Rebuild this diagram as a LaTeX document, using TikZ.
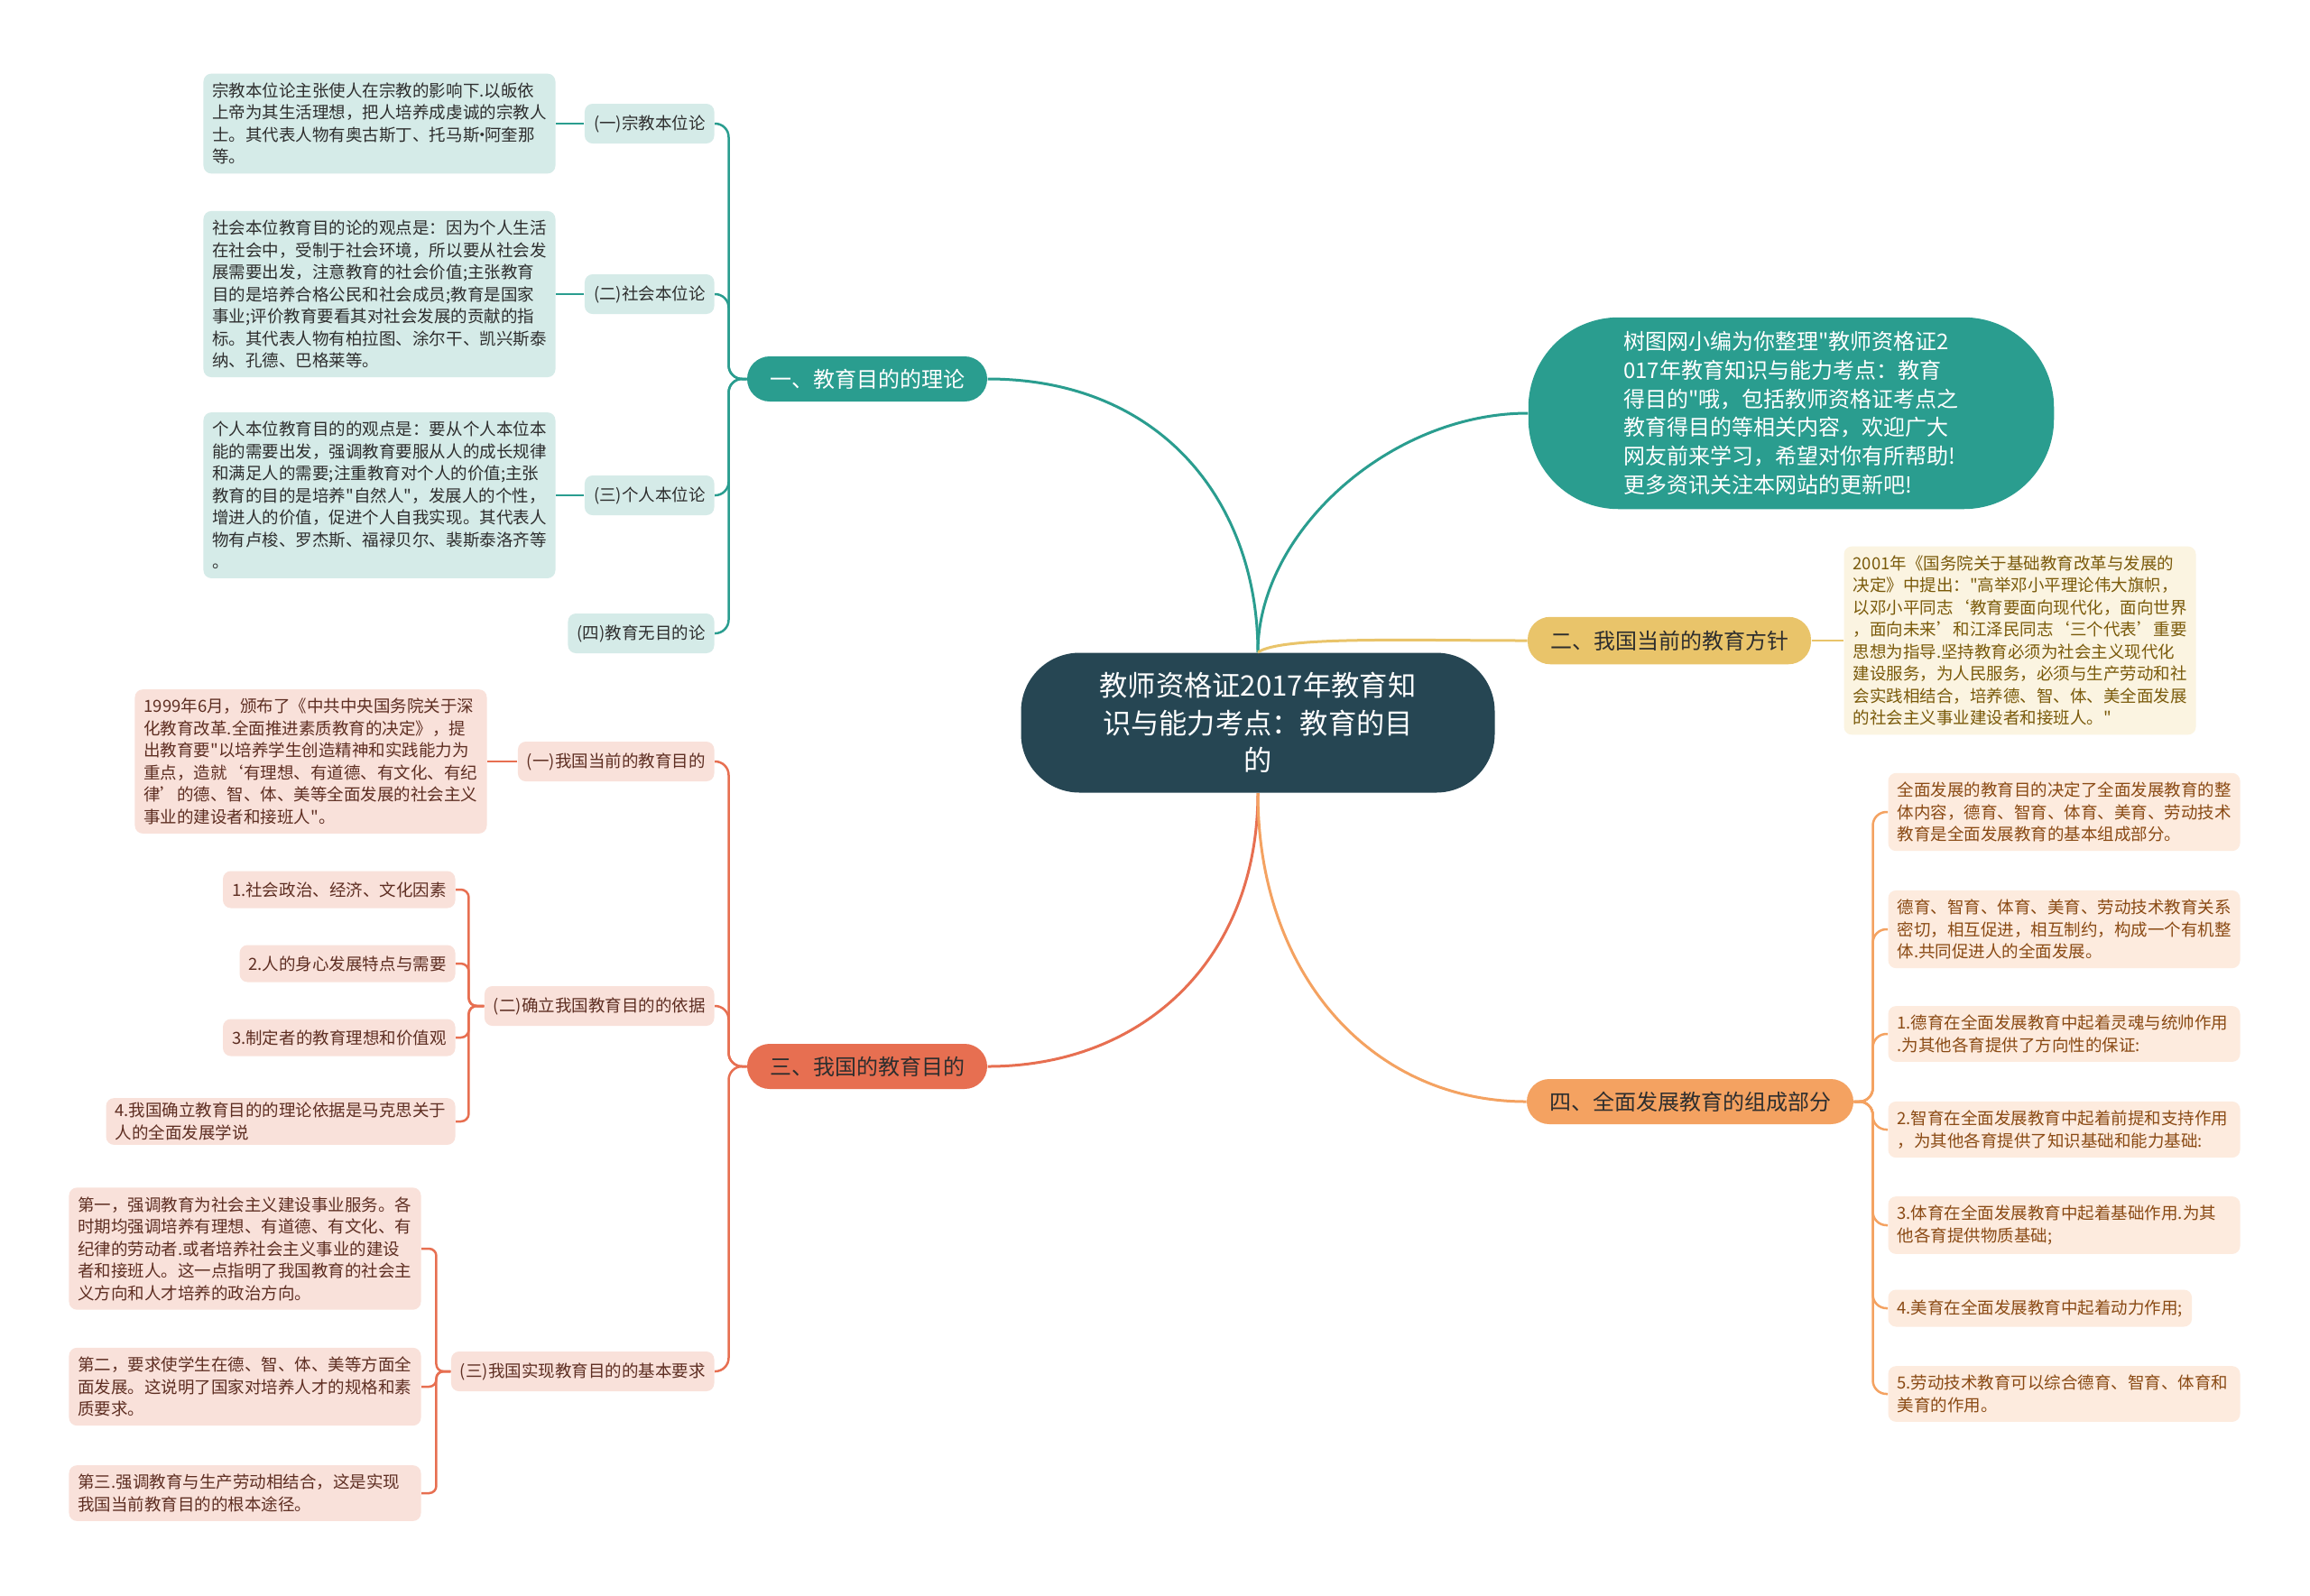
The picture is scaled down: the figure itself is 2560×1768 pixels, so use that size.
\documentclass[tikz,border=0pt]{standalone}
\usepackage{fontspec}
\setmainfont{Noto Sans CJK SC}[Ligatures=TeXOff]
\definecolor{navy}{HTML}{264653}
\definecolor{teal1}{HTML}{2A9D8F}
\definecolor{teall}{HTML}{D5EBE8}
\definecolor{yel}{HTML}{E9C46A}
\definecolor{yell}{HTML}{FBF4E1}
\definecolor{yelt}{HTML}{7A5A0A}
\definecolor{ora}{HTML}{F4A261}
\definecolor{oral}{HTML}{FDEBDE}
\definecolor{orat}{HTML}{8A4A14}
\definecolor{red1}{HTML}{E76F51}
\definecolor{redl}{HTML}{F9E1DA}
\definecolor{redt}{HTML}{5E2E22}
\definecolor{dtext}{HTML}{2E2E2E}
\begin{document}
\begin{tikzpicture}[x=0.4pt,y=-0.4pt,
  every node/.style={font=\fontsize{7.4}{9.8}\selectfont},
  base/.style={rounded corners=3.5pt, inner xsep=4pt, inner ysep=4pt},
  tleaf/.style={base, fill=teall, text=dtext, align=left, text width=148pt},
  tsub/.style={base, fill=teall, text=dtext, minimum height=17.6pt, inner ysep=2pt},
  rleaf/.style={base, fill=redl, text=redt, align=left, text width=148pt},
  rsub/.style={base, fill=redl, text=redt, minimum height=17.6pt, inner ysep=2pt},
  rsmall/.style={base, fill=redl, text=redt, align=left, minimum height=16.4pt, inner ysep=2pt},
  yleaf/.style={base, fill=yell, text=yelt, align=left, text width=148pt},
  oleaf/.style={base, fill=oral, text=orat, align=left, text width=148pt},
  osmall/.style={base, fill=oral, text=orat, align=left, minimum height=16.4pt, inner ysep=2pt},
  brn/.style={rounded corners=10pt, minimum height=20pt, inner xsep=10pt, inner ysep=2pt, font=\fontsize{9.6}{11}\selectfont},
  cl/.style={draw=#1, line width=1.2pt},
  el/.style={draw=#1, line width=1pt, rounded corners=6pt},
]
\fill[white] (0,0) rectangle (2560,1768);
\useasboundingbox (0,0) rectangle (2560,1768);

% central
\node[fill=navy, text=white, rounded corners=26pt, minimum width=210pt, minimum height=62pt, align=center, font=\fontsize{12.5}{16.6}\selectfont] (c) at (1394,801) {教师资格证2017年教育知\\识与能力考点：教育的目\\的};

% intro node
\node[fill=teal1, text=white, rounded corners=40pt, minimum width=233pt, minimum height=85pt, align=left, font=\fontsize{9.6}{12.7}\selectfont] (g) at (1985,458) {树图网小编为你整理"教师资格证2\\017年教育知识与能力考点：教育\\得目的"哦，包括教师资格证考点之\\教育得目的等相关内容，欢迎广大\\网友前来学习，希望对你有所帮助!\\更多资讯关注本网站的更新吧!};

% branch 1
\node[brn, fill=teal1, text=white] (b1) at (961,420) {一、教育目的的理论};
\node[tsub, anchor=east] (s1a) at (792,137) {(一)宗教本位论};
\node[tsub, anchor=east] (s1b) at (792,326) {(二)社会本位论};
\node[tsub, anchor=east] (s1c) at (792,549) {(三)个人本位论};
\node[tsub, anchor=east] (s1d) at (792,702) {(四)教育无目的论};
\node[tleaf, anchor=east] (l1a) at (616,137) {宗教本位论主张使人在宗教的影响下.以皈依\\上帝为其生活理想，把人培养成虔诚的宗教人\\士。其代表人物有奥古斯丁、托马斯\kern-0.35em·\kern-0.35em 阿奎那\\等。};
\node[tleaf, anchor=east] (l1b) at (616,326) {社会本位教育目的论的观点是：因为个人生活\\在社会中，受制于社会环境，所以要从社会发\\展需要出发，注意教育的社会价值;主张教育\\目的是培养合格公民和社会成员;教育是国家\\事业;评价教育要看其对社会发展的贡献的指\\标。其代表人物有柏拉图、涂尔干、凯兴斯泰\\纳、孔德、巴格莱等。};
\node[tleaf, anchor=east] (l1c) at (616,549) {个人本位教育目的的观点是：要从个人本位本\\能的需要出发，强调教育要服从人的成长规律\\和满足人的需要;注重教育对个人的价值;主张\\教育的目的是培养"自然人"，发展人的个性，\\增进人的价值，促进个人自我实现。其代表人\\物有卢梭、罗杰斯、福禄贝尔、裴斯泰洛齐等\\。};

% branch 2
\node[brn, fill=yel, text=dtext, minimum height=21pt] (b2) at (1850,710) {二、我国当前的教育方针};
\node[yleaf, anchor=west] (l2) at (2043,710) {2001年《国务院关于基础教育改革与发展的\\决定》中提出："高举邓小平理论伟大旗帜，\\以邓小平同志‘教育要面向现代化，面向世界\\，面向未来’和江泽民同志‘三个代表’重要\\思想为指导.坚持教育必须为社会主义现代化\\建设服务，为人民服务，必须与生产劳动和社\\会实践相结合，培养德、智、体、美全面发展\\的社会主义事业建设者和接班人。"};

% branch 3
\node[brn, fill=red1, text=dtext] (b3) at (961,1182) {三、我国的教育目的};
\node[rsub, anchor=east] (s3a) at (792,844) {(一)我国当前的教育目的};
\node[rsub, anchor=east] (s3b) at (792,1115) {(二)确立我国教育目的的依据};
\node[rsub, anchor=east] (s3c) at (792,1520) {(三)我国实现教育目的的基本要求};
\node[rleaf, anchor=east] (l3a) at (540,844) {1999年6月，颁布了《中共中央国务院关于深\\化教育改革.全面推进素质教育的决定》，提\\出教育要"以培养学生创造精神和实践能力为\\重点，造就‘有理想、有道德、有文化、有纪\\律’的德、智、体、美等全面发展的社会主义\\事业的建设者和接班人"。};
\node[rsmall, anchor=east] (k1) at (505,986) {1.社会政治、经济、文化因素};
\node[rsmall, anchor=east] (k2) at (505,1068) {2.人的身心发展特点与需要};
\node[rsmall, anchor=east] (k3) at (505,1150) {3.制定者的教育理想和价值观};
\node[rsmall, anchor=east] (k4) at (505,1243) {4.我国确立教育目的的理论依据是马克思关于\\人的全面发展学说};
\node[rleaf, anchor=east] (m1) at (467,1384) {第一，强调教育为社会主义建设事业服务。各\\时期均强调培养有理想、有道德、有文化、有\\纪律的劳动者.或者培养社会主义事业的建设\\者和接班人。这一点指明了我国教育的社会主\\义方向和人才培养的政治方向。};
\node[rleaf, anchor=east] (m2) at (467,1537) {第二，要求使学生在德、智、体、美等方面全\\面发展。这说明了国家对培养人才的规格和素\\质要求。};
\node[rleaf, anchor=east] (m3) at (467,1655) {第三.强调教育与生产劳动相结合，这是实现\\我国当前教育目的的根本途径。};

% branch 4
\node[brn, fill=ora, text=dtext] (b4) at (1873,1221) {四、全面发展教育的组成部分};
\node[oleaf, anchor=west] (n1) at (2092,900) {全面发展的教育目的决定了全面发展教育的整\\体内容，德育、智育、体育、美育、劳动技术\\教育是全面发展教育的基本组成部分。};
\node[oleaf, anchor=west] (n2) at (2092,1030) {德育、智育、体育、美育、劳动技术教育关系\\密切，相互促进，相互制约，构成一个有机整\\体.共同促进人的全面发展。};
\node[oleaf, anchor=west] (n3) at (2092,1146) {1.德育在全面发展教育中起着灵魂与统帅作用\\.为其他各育提供了方向性的保证:};
\node[oleaf, anchor=west] (n4) at (2092,1252) {2.智育在全面发展教育中起着前提和支持作用\\，为其他各育提供了知识基础和能力基础:};
\node[oleaf, anchor=west] (n5) at (2092,1358) {3.体育在全面发展教育中起着基础作用.为其\\他各育提供物质基础;};
\node[osmall, anchor=west] (n6) at (2092,1450) {4.美育在全面发展教育中起着动力作用;};
\node[oleaf, anchor=west] (n7) at (2092,1545) {5.劳动技术教育可以综合德育、智育、体育和\\美育的作用。};

% central connectors
\draw[cl=teal1] (c.north) .. controls (1394,560) and (1290,420) .. (b1.east);
\draw[cl=teal1] (c.north) .. controls (1394,590) and (1540,458) .. (g.west);
\draw[cl=yel] (c.north) .. controls (1420,705) and (1560,710) .. (b2.west);
\draw[cl=red1] (c.south) .. controls (1394,1060) and (1270,1182) .. (b3.east);
\draw[cl=ora] (c.south) .. controls (1394,1080) and (1520,1221) .. (b4.west);

% branch 1 connectors
\foreach \t in {s1a,s1b,s1c,s1d}{\draw[el=teal1] (b1.west) -- ++(-20,0) |- (\t.east);}
\draw[el=teal1] (s1a.west) -- (l1a.east);
\draw[el=teal1] (s1b.west) -- (l1b.east);
\draw[el=teal1] (s1c.west) -- (l1c.east);

% branch 2 connector
\draw[el=yel] (b2.east) -- (l2.west);

% branch 3 connectors
\foreach \t in {s3a,s3b,s3c}{\draw[el=red1] (b3.west) -- ++(-20,0) |- (\t.east);}
\draw[el=red1] (s3a.west) -- (l3a.east);
\foreach \t in {k1,k2,k3,k4}{\draw[el=red1, rounded corners=3.5pt] (s3b.west) -- ++(-17,0) |- (\t.east);}
\foreach \t in {m1,m2,m3}{\draw[el=red1, rounded corners=3.2pt] (s3c.west) -- ++(-16,0) |- (\t.east);}

% branch 4 connectors
\foreach \t in {n1,n2,n3,n4,n5,n6,n7}{\draw[el=ora] (b4.east) -- ++(21,0) |- (\t.west);}
\end{tikzpicture}
\end{document}
